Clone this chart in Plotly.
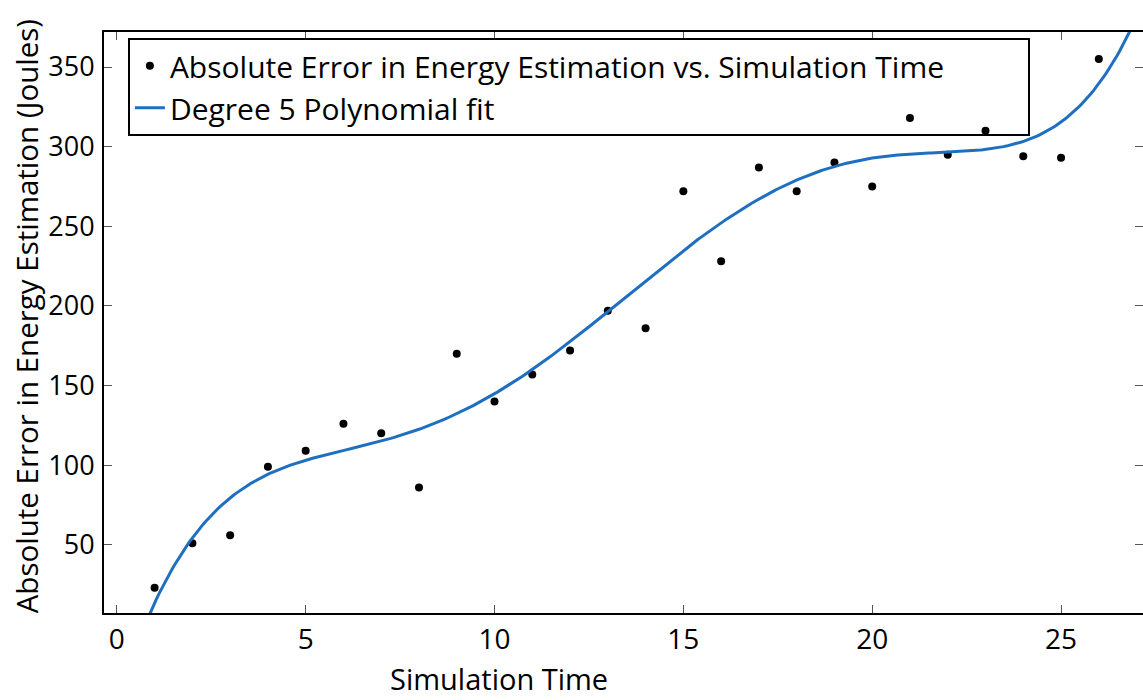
import numpy as np
import plotly.graph_objects as go

sim_time = [1, 2, 3, 4, 5, 6, 7, 8, 9, 10, 11, 12, 13, 14, 15, 16, 17, 18, 19, 20, 21, 22, 23, 24, 25, 26]
abs_error = [23, 51, 56, 99, 109, 126, 120, 86, 170, 140, 157, 172, 197, 186, 272, 228, 287, 272, 290, 275, 318, 295, 310, 294, 293, 355]
x_ticks = [0, 5, 10, 15, 20, 25]
y_ticks = [50, 100, 150, 200, 250, 300, 350]

coef = np.polyfit(sim_time, abs_error, 5)
xf = np.linspace(0.3, 27.5, 400)
yf = np.polyval(coef, xf)

FONT = "Open Sans"
PAD = "\u00a0" * 10
fig = go.Figure()
fig.add_trace(go.Scatter(x=sim_time, y=abs_error, mode="markers",
                         marker=dict(color="black", size=8),
                         name="Absolute Error in Energy Estimation vs. Simulation Time" + PAD))
fig.add_trace(go.Scatter(x=xf, y=yf, mode="lines",
                         line=dict(color="#1f6fc0", width=3),
                         name="Degree 5 Polynomial fit"))
# invisible trace to carry right-side ticks
fig.add_trace(go.Scatter(x=[None], y=[None], yaxis="y2", showlegend=False, hoverinfo="skip"))

fig.update_layout(
    width=1143, height=700,
    margin=dict(l=104, r=0, t=32, b=87),
    plot_bgcolor="white", paper_bgcolor="white",
    font=dict(family=FONT, size=28, color="black"),
    showlegend=True,
    legend=dict(x=0.023, y=0.99, xanchor="left", yanchor="top",
                bordercolor="black", borderwidth=2, bgcolor="rgba(0,0,0,0)",
                font=dict(family=FONT, size=30, color="black"),
                tracegroupgap=0, itemwidth=30),
    xaxis=dict(range=[-0.34, 27.17], tickvals=x_ticks, ticks="inside", ticklen=8,
               tickcolor="#555", showline=True, linecolor="black", linewidth=2,
               mirror="ticks", showgrid=False, zeroline=False,
               tickfont=dict(size=28)),
    yaxis=dict(range=[7.2, 372], tickvals=y_ticks, ticks="inside", ticklen=8,
               tickcolor="#555", showline=True, linecolor="black", linewidth=2,
               showgrid=False, zeroline=False, tickfont=dict(size=27),
               ticklabelstandoff=2),
    yaxis2=dict(range=[7.2, 372], tickvals=y_ticks, ticks="inside", ticklen=8,
                tickcolor="#555", overlaying="y", side="right", showline=False,
                showticklabels=False, showgrid=False, zeroline=False),
    annotations=[
        dict(text="Simulation Time", xref="paper", yref="paper", x=0.38, y=-0.113,
             xanchor="center", yanchor="middle", showarrow=False,
             font=dict(family=FONT, size=29)),
        dict(text="Absolute Error in Energy Estimation (Joules)", xref="paper", yref="paper",
             x=-0.0745, y=0.51, xanchor="center", yanchor="middle", textangle=-90,
             showarrow=False, font=dict(family=FONT, size=29.5)),
    ],
)
fig.write_html("out.html")
